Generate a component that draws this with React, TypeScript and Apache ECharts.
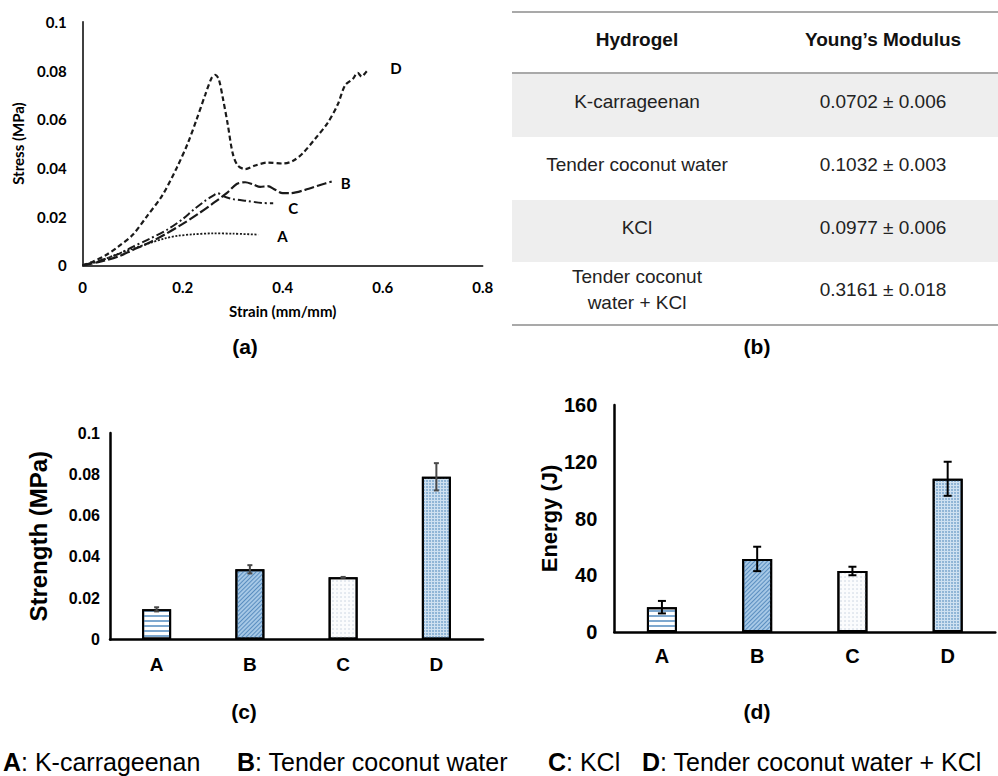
import React, { useEffect, useRef } from "react";
import * as echarts from "echarts";

// ---------- DATA ----------
// (a) stress–strain curves: [strain (mm/mm), stress (MPa)]
const curveA: number[][] = [[0,0],[0.035,0.0018],[0.068,0.0045],[0.1,0.0068],[0.135,0.0092],[0.165,0.0111],[0.19,0.0121],[0.22,0.0127],[0.261,0.0131],[0.3,0.013],[0.351,0.0126]];
const curveB: number[][] = [[0,0],[0.035,0.0015],[0.07,0.0035],[0.1,0.0063],[0.135,0.0095],[0.168,0.0131],[0.2,0.017],[0.23,0.021],[0.261,0.0255],[0.288,0.0296],[0.308,0.0334],[0.325,0.0341],[0.341,0.0332],[0.355,0.0322],[0.37,0.0325],[0.385,0.031],[0.4,0.0296],[0.415,0.0296],[0.445,0.031],[0.475,0.033],[0.498,0.0344]];
const curveC: number[][] = [[0,0],[0.035,0.002],[0.07,0.0045],[0.101,0.0077],[0.135,0.011],[0.168,0.0145],[0.2,0.019],[0.221,0.0227],[0.245,0.0265],[0.261,0.0286],[0.27,0.0296],[0.282,0.0283],[0.3,0.0272],[0.33,0.0264],[0.36,0.0256],[0.381,0.0255]];
const curveD: number[][] = [[0,0],[0.02,0.0015],[0.045,0.004],[0.07,0.0075],[0.1,0.0125],[0.128,0.02],[0.16,0.029],[0.188,0.04],[0.21,0.05],[0.228,0.06],[0.245,0.07],[0.258,0.077],[0.265,0.0782],[0.272,0.0765],[0.28,0.069],[0.29,0.058],[0.3,0.046],[0.31,0.041],[0.325,0.0395],[0.345,0.041],[0.37,0.0422],[0.4,0.0418],[0.42,0.0428],[0.44,0.046],[0.465,0.052],[0.49,0.0585],[0.51,0.066],[0.525,0.074],[0.54,0.0765],[0.55,0.079],[0.558,0.0775],[0.566,0.0792],[0.571,0.0803]];
const curveNames = ["A", "B", "C", "D"];
const strainTicks = [0, 0.2, 0.4, 0.6, 0.8];
const stressTicks = [0, 0.02, 0.04, 0.06, 0.08, 0.1];

// (b) table
const tableHeader = ["Hydrogel", "Young\u2019s Modulus"];
const hydrogels = ["K-carrageenan", "Tender coconut water", "KCl", "Tender coconut\nwater + KCl"];
const modulus = ["0.0702 \u00b1 0.006", "0.1032 \u00b1 0.003", "0.0977 \u00b1 0.006", "0.3161 \u00b1 0.018"];

// (c) strength, (d) energy
const groups = ["A", "B", "C", "D"];
const strength = [0.0146, 0.034, 0.0301, 0.0788];
const strengthErr = [0.001, 0.002, 0.0002, 0.0066];
const energy = [17.5, 51.5, 43, 108];
const energyErr = [4.4, 8.6, 3, 12];

// footer
const footerKeys = ["A", "B", "C", "D"];
const footerNames = ["K-carrageenan", "Tender coconut water", "KCl", "Tender coconut water + KCl"];
const panelLabels = ["(a)", "(b)", "(c)", "(d)"];

// ---------- STYLES ----------
const CAL = "Lato, 'Open Sans', sans-serif";
const ARI = "'Liberation Sans', Arial, Helvetica, sans-serif";

const patterns: any[] = [
  { color: "#ffffff", decal: { symbol: "rect", symbolSize: 1, color: "#7ea8cf", dashArrayX: [1, 0], dashArrayY: [1.5, 2.5], rotation: 0 } },
  { color: "#a6c8e6", decal: { symbol: "rect", symbolSize: 1, color: "#5a8ec0", dashArrayX: [1, 0], dashArrayY: [1, 1.6], rotation: -Math.PI / 4 } },
  { color: "#fbfcfd", decal: { symbol: "circle", symbolSize: 0.7, color: "#c3cfdb", dashArrayX: [2, 2], dashArrayY: [2, 2], rotation: 0 } },
  { color: "#cfe1f1", decal: { symbol: "circle", symbolSize: 0.8, color: "#6d9dc8", dashArrayX: [2, 1], dashArrayY: [2, 1], rotation: 0 } },
];

const lineStyles: any[] = [
  { type: [2, 1.6], width: 1.8 },
  { type: [10, 3], width: 2.2 },
  { type: [8, 3, 2, 3], width: 2 },
  { type: [5, 3], width: 2.2 },
];
const endLabelPos: any[] = [
  { distance: 19, offset: [0, 1] },
  { distance: 9, offset: [0, 1] },
  { distance: 15, offset: [0, 5] },
  { distance: 22, offset: [0, -2] },
];

function fmt(v: number) {
  if (v === 0) return "0";
  return String(+v.toFixed(3));
}

function errorBar(color: string, width: number, cap: number) {
  return (params: any, api: any) => {
    const x = api.value(0);
    const v = api.value(1);
    const e = api.value(2);
    const top = api.coord([x, v + e]);
    const bot = api.coord([x, v - e]);
    const st = { stroke: color, lineWidth: width };
    return {
      type: "group",
      children: [
        { type: "line", shape: { x1: top[0], y1: top[1], x2: bot[0], y2: bot[1] }, style: st },
        { type: "line", shape: { x1: top[0] - cap, y1: top[1], x2: top[0] + cap, y2: top[1] }, style: st },
        { type: "line", shape: { x1: bot[0] - cap, y1: bot[1], x2: bot[0] + cap, y2: bot[1] }, style: st },
      ],
    };
  };
}

export default function App() {
  const ref = useRef<HTMLDivElement>(null);
  useEffect(() => {
    if (!ref.current) return;
    const chart = echarts.init(ref.current, null, { renderer: "svg" });
    const curves = [curveA, curveB, curveC, curveD];

    const graphic: any[] = [];
    // table
    const tL = 512, tR = 998;
    const bands = [[74, 137], [200, 262]];
    bands.forEach((b) => graphic.push({ type: "rect", shape: { x: tL, y: b[0], width: tR - tL, height: b[1] - b[0] }, style: { fill: "#eeeeee" }, silent: true }));
    [12, 73, 325].forEach((y) => graphic.push({ type: "line", shape: { x1: tL, y1: y, x2: tR, y2: y }, style: { stroke: "#8c8c8c", lineWidth: 1.5 } }));
    const colX = [637, 883];
    tableHeader.forEach((h, i) => graphic.push({ type: "text", x: colX[i], y: 39, style: { text: h, font: `bold 19px ${ARI}`, fill: "#111", align: "center", verticalAlign: "middle" } }));
    const rowY = [101, 164, 227, 289];
    hydrogels.forEach((n, i) => {
      graphic.push({ type: "text", x: colX[0], y: rowY[i], style: { text: n, font: `19px ${ARI}`, fill: "#222", align: "center", verticalAlign: "middle", lineHeight: 26 } });
      graphic.push({ type: "text", x: colX[1], y: rowY[i], style: { text: modulus[i], font: `19px ${ARI}`, fill: "#222", align: "center", verticalAlign: "middle" } });
    });
    // panel labels
    const plPos = [[245, 346], [757, 346], [244, 711], [757, 711]];
    panelLabels.forEach((t, i) => graphic.push({ type: "text", x: plPos[i][0], y: plPos[i][1], style: { text: t, font: `bold 21px ${ARI}`, fill: "#000", align: "center", verticalAlign: "middle" } }));
    // footer
    const footX = [3, 237, 548, 642];
    footerKeys.forEach((k, i) => graphic.push({
      type: "text", x: footX[i], y: 762,
      style: { text: `{b|${k}}: ${footerNames[i]}`, font: `25px ${ARI}`, fill: "#000", verticalAlign: "middle", rich: { b: { fontWeight: "bold", fontSize: 25, fontFamily: ARI } } },
    }));

    const option: any = {
      animation: false,
      backgroundColor: "#ffffff",
      grid: [
        { left: 82.7, top: 21.8, width: 400, height: 243.5 },
        { left: 110, top: 433, width: 373, height: 206.5 },
        { left: 614.3, top: 405, width: 381, height: 227 },
      ],
      xAxis: [
        {
          gridIndex: 0, type: "value", min: strainTicks[0], max: strainTicks[strainTicks.length - 1], interval: 0.2,
          axisLine: { lineStyle: { color: "#000", width: 1.5 } }, axisTick: { show: false }, splitLine: { show: false },
          axisLabel: { formatter: fmt, fontFamily: CAL, fontWeight: "bold", fontSize: 15, color: "#000", margin: 14 },
          name: "Strain (mm/mm)", nameLocation: "middle", nameGap: 38,
          nameTextStyle: { fontFamily: CAL, fontWeight: "bold", fontSize: 15, color: "#000" },
        },
        {
          gridIndex: 1, type: "category", data: groups,
          axisLine: { lineStyle: { color: "#000", width: 2.5 } }, axisTick: { show: false },
          axisLabel: { fontFamily: ARI, fontWeight: "bold", fontSize: 19, color: "#000", margin: 15 },
        },
        {
          gridIndex: 2, type: "category", data: groups,
          axisLine: { lineStyle: { color: "#000", width: 2.5 } }, axisTick: { show: false },
          axisLabel: { fontFamily: ARI, fontWeight: "bold", fontSize: 20, color: "#000", margin: 14 },
        },
      ],
      yAxis: [
        {
          gridIndex: 0, type: "value", min: stressTicks[0], max: stressTicks[stressTicks.length - 1], interval: 0.02,
          axisLine: { show: true, lineStyle: { color: "#000", width: 1.5 } }, axisTick: { show: false }, splitLine: { show: false },
          axisLabel: { formatter: fmt, fontFamily: CAL, fontWeight: "bold", fontSize: 15, color: "#000", margin: 16 },
          name: "Stress (MPa)", nameLocation: "middle", nameRotate: 90, nameGap: 57,
          nameTextStyle: { fontFamily: CAL, fontWeight: "bold", fontSize: 15, color: "#000" },
        },
        {
          gridIndex: 1, type: "value", min: 0, max: 0.1, interval: 0.02,
          axisLine: { show: true, lineStyle: { color: "#000", width: 2.5 } }, axisTick: { show: false }, splitLine: { show: false },
          axisLabel: { formatter: fmt, fontFamily: ARI, fontWeight: "bold", fontSize: 16, color: "#000", margin: 10 },
          name: "Strength (MPa)", nameLocation: "middle", nameRotate: 90, nameGap: 60,
          nameTextStyle: { fontFamily: ARI, fontWeight: "bold", fontSize: 24, color: "#000" },
        },
        {
          gridIndex: 2, type: "value", min: 0, max: 160, interval: 40,
          axisLine: { show: true, lineStyle: { color: "#000", width: 2.5 } }, axisTick: { show: false }, splitLine: { show: false },
          axisLabel: { fontFamily: ARI, fontWeight: "bold", fontSize: 20, color: "#000", margin: 17 },
          name: "Energy (J)", nameLocation: "middle", nameRotate: 90, nameGap: 51,
          nameTextStyle: { fontFamily: ARI, fontWeight: "bold", fontSize: 22, color: "#000" },
        },
      ],
      series: [
        ...curves.map((c, i) => ({
          type: "line", name: curveNames[i], xAxisIndex: 0, yAxisIndex: 0, data: c,
          showSymbol: false, symbol: "none", smooth: 0.3,
          lineStyle: { color: "#1a1a1a", ...lineStyles[i] },
          endLabel: { show: true, formatter: curveNames[i], fontFamily: CAL, fontWeight: "bold", fontSize: 15, color: "#000", ...endLabelPos[i] },
          z: 4 - i,
        })),
        {
          type: "bar", xAxisIndex: 1, yAxisIndex: 1, barWidth: 29,
          data: strength.map((v, i) => ({ value: v, itemStyle: { color: patterns[i].color, decal: patterns[i].decal, borderColor: "#000", borderWidth: 2 } })),
        },
        {
          type: "custom", xAxisIndex: 1, yAxisIndex: 1, renderItem: errorBar("#4a4a4a", 2, 2.5),
          data: strength.map((v, i) => [i, v, strengthErr[i]]), z: 5,
        },
        {
          type: "bar", xAxisIndex: 2, yAxisIndex: 2, barWidth: 30,
          data: energy.map((v, i) => ({ value: v, itemStyle: { color: patterns[i].color, decal: patterns[i].decal, borderColor: "#000", borderWidth: 2 } })),
        },
        {
          type: "custom", xAxisIndex: 2, yAxisIndex: 2, renderItem: errorBar("#000", 2, 4),
          data: energy.map((v, i) => [i, v, energyErr[i]]), z: 5,
        },
      ],
      graphic,
    };
    chart.setOption(option);
    return () => chart.dispose();
  }, []);
  return <div ref={ref} style={{ position: "absolute", left: 0, top: 0, width: 998, height: 776 }} />;
}
